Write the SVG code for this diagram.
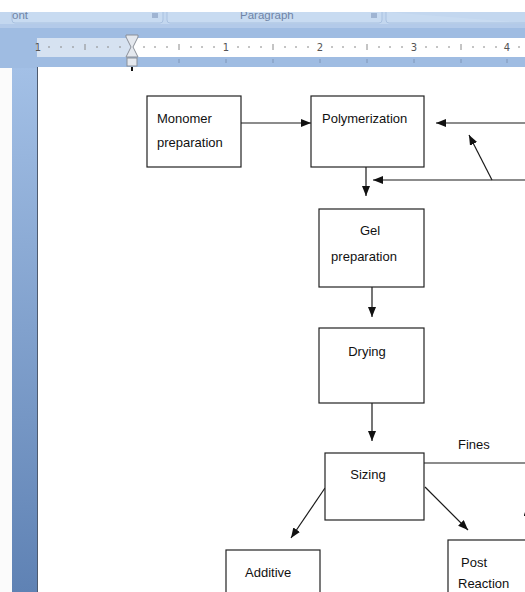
<svg xmlns="http://www.w3.org/2000/svg" width="525" height="592" viewBox="0 0 525 592">
<defs>
<linearGradient id="side" x1="0" y1="0" x2="0" y2="1">
<stop offset="0" stop-color="#a3c0e6"/>
<stop offset="1" stop-color="#5f82b4"/>
</linearGradient>
<clipPath id="tabclip"><rect x="0" y="12" width="525" height="12"/></clipPath>
<marker id="ah" markerUnits="userSpaceOnUse" markerWidth="11" markerHeight="9" refX="10" refY="4" orient="auto">
<path d="M0,0 L10,4 L0,8 z" fill="#111"/>
</marker>
</defs>
<style>
.box{fill:#fff;stroke:#222;stroke-width:1.2}
.lbl{font-family:"Liberation Sans",Arial,sans-serif;font-size:13px;fill:#111}
.con{stroke:#1a1a1a;stroke-width:1.2;fill:none}
.arr{marker-end:url(#ah)}
.rn{font-family:"DejaVu Sans",sans-serif;font-size:10px;fill:#555}
.tab{font-family:"Liberation Sans",Arial,sans-serif;font-size:11.5px;fill:#6f84a6}
</style>
<rect width="525" height="592" fill="#fff"/>
<!-- ribbon -->
<g id="ribbon">
<rect x="0" y="12" width="525" height="56" fill="#9fbce2"/>
<rect x="0" y="12" width="525" height="12" fill="#c3d7ef"/>
<path d="M12,12 V20 Q12,23 15,23 H160 Q163,23 163,20 V12" fill="#c8dbf1" stroke="#a9c1e0" stroke-width="1"/>
<path d="M167,12 V20 Q167,23 170,23 H379 Q382,23 382,20 V12" fill="#c8dbf1" stroke="#a9c1e0" stroke-width="1"/>
<path d="M386,12 V20 Q386,23 389,23 H525" fill="#c8dbf1" stroke="#a9c1e0" stroke-width="1"/>
<rect x="0" y="24" width="525" height="4" fill="#b3cae9"/>
<g clip-path="url(#tabclip)">
<text class="tab" x="12" y="18.5">ont</text>
<text class="tab" x="240" y="18.5">Paragraph</text>
</g>
<rect x="152" y="13" width="6" height="5" fill="#9fb4d2"/>
<rect x="371" y="13" width="6" height="5" fill="#9fb4d2"/>
</g>
<!-- ruler -->
<g id="ruler">
<rect x="37" y="38" width="488" height="19" fill="#fff"/>
<rect x="37" y="38" width="95" height="19" fill="#d6e2f1"/>
<g stroke="#8a8a8a" stroke-width="1">
<line x1="49" y1="46" x2="49" y2="48"/><line x1="61" y1="46" x2="61" y2="48"/><line x1="73" y1="46" x2="73" y2="48"/>
<line x1="85" y1="44" x2="85" y2="50"/>
<line x1="97" y1="46" x2="97" y2="48"/><line x1="108" y1="46" x2="108" y2="48"/><line x1="120" y1="46" x2="120" y2="48"/>
<line x1="144" y1="46" x2="144" y2="48"/><line x1="155" y1="46" x2="155" y2="48"/><line x1="167" y1="46" x2="167" y2="48"/>
<line x1="179" y1="44" x2="179" y2="50"/>
<line x1="191" y1="46" x2="191" y2="48"/><line x1="202" y1="46" x2="202" y2="48"/><line x1="214" y1="46" x2="214" y2="48"/>
<line x1="238" y1="46" x2="238" y2="48"/><line x1="249" y1="46" x2="249" y2="48"/><line x1="261" y1="46" x2="261" y2="48"/>
<line x1="273" y1="44" x2="273" y2="50"/>
<line x1="285" y1="46" x2="285" y2="48"/><line x1="296" y1="46" x2="296" y2="48"/><line x1="308" y1="46" x2="308" y2="48"/>
<line x1="332" y1="46" x2="332" y2="48"/><line x1="343" y1="46" x2="343" y2="48"/><line x1="355" y1="46" x2="355" y2="48"/>
<line x1="367" y1="44" x2="367" y2="50"/>
<line x1="379" y1="46" x2="379" y2="48"/><line x1="390" y1="46" x2="390" y2="48"/><line x1="402" y1="46" x2="402" y2="48"/>
<line x1="426" y1="46" x2="426" y2="48"/><line x1="437" y1="46" x2="437" y2="48"/><line x1="449" y1="46" x2="449" y2="48"/>
<line x1="461" y1="44" x2="461" y2="50"/>
<line x1="473" y1="46" x2="473" y2="48"/><line x1="484" y1="46" x2="484" y2="48"/><line x1="496" y1="46" x2="496" y2="48"/>
<line x1="519" y1="46" x2="519" y2="48"/>
</g>
<text class="rn" x="38" y="51" text-anchor="middle">1</text>
<text class="rn" x="226" y="51" text-anchor="middle">1</text>
<text class="rn" x="320" y="51" text-anchor="middle">2</text>
<text class="rn" x="414" y="51" text-anchor="middle">3</text>
<text class="rn" x="507" y="51" text-anchor="middle">4</text>
<g stroke="#7f96b8" stroke-width="1">
<line x1="179" y1="59" x2="179" y2="63"/><line x1="226" y1="59" x2="226" y2="63"/><line x1="273" y1="59" x2="273" y2="63"/><line x1="320" y1="59" x2="320" y2="63"/><line x1="367" y1="59" x2="367" y2="63"/><line x1="414" y1="59" x2="414" y2="63"/><line x1="461" y1="59" x2="461" y2="63"/><line x1="507" y1="59" x2="507" y2="63"/>
</g>
<path d="M126,35 H138 V37 L133,47 L138,57 H126 L131,47 L126,37 z" fill="#e4e8ee" stroke="#8a8f98" stroke-width="1"/>
<rect x="127" y="58" width="10" height="8" fill="#e4e8ee" stroke="#8a8f98" stroke-width="1"/>
</g>
<!-- page frame -->
<rect x="12" y="68" width="25" height="524" fill="url(#side)"/>
<rect x="0" y="68" width="12" height="524" fill="#fbfbfb"/>
<line x1="37.5" y1="67" x2="37.5" y2="592" stroke="#4d5a6e" stroke-width="1"/>
<rect x="38" y="67" width="487" height="525" fill="#fff"/>
<line x1="132" y1="67" x2="132" y2="71" stroke="#111" stroke-width="2"/>
<!-- connectors -->
<g id="connectors">
<line class="con arr" x1="241" y1="123" x2="311" y2="123"/>
<line class="con arr" x1="525" y1="123" x2="436" y2="123"/>
<line class="con arr" x1="492" y1="180" x2="469" y2="135"/>
<line class="con arr" x1="525" y1="180" x2="373" y2="180"/>
<line class="con arr" x1="366" y1="167" x2="366" y2="196"/>
<line class="con arr" x1="372" y1="287" x2="372" y2="317"/>
<line class="con arr" x1="372" y1="403" x2="372" y2="441"/>
<line class="con" x1="424" y1="463" x2="525" y2="463"/>
<line class="con arr" x1="325" y1="488" x2="291" y2="538"/>
<line class="con arr" x1="425" y1="487" x2="468" y2="530"/>
<line class="con arr" x1="529" y1="540" x2="527" y2="506"/>
</g>
<!-- nodes -->
<g id="monomer"><rect class="box" x="147" y="96" width="94" height="71"/><text class="lbl" x="157" y="123">Monomer</text><text class="lbl" x="157" y="147">preparation</text></g>
<g id="polymerization"><rect class="box" x="311" y="96" width="113" height="71"/><text class="lbl" x="322" y="123">Polymerization</text></g>
<g id="gel"><rect class="box" x="319" y="209" width="105" height="78"/><text class="lbl" x="370" y="235" text-anchor="middle">Gel</text><text class="lbl" x="364" y="261" text-anchor="middle">preparation</text></g>
<g id="drying"><rect class="box" x="319" y="328" width="105" height="75"/><text class="lbl" x="367" y="356" text-anchor="middle">Drying</text></g>
<g id="sizing"><rect class="box" x="325" y="453" width="99" height="67"/><text class="lbl" x="368" y="479" text-anchor="middle">Sizing</text></g>
<g id="fines-label"><text class="lbl" x="458" y="449">Fines</text></g>
<g id="additive"><rect class="box" x="226" y="550" width="94" height="60"/><text class="lbl" x="245" y="577">Additive</text></g>
<g id="post-reaction"><rect class="box" x="448" y="540" width="100" height="70"/><text class="lbl" x="461" y="567">Post</text><text class="lbl" x="458" y="588">Reaction</text></g>
</svg>
